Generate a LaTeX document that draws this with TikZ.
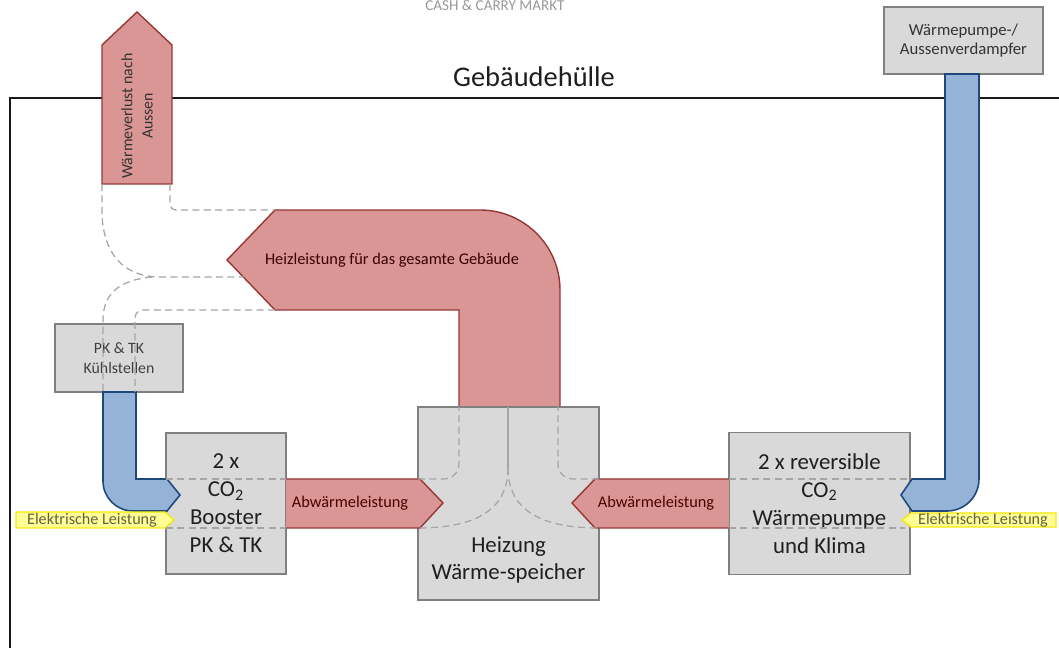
\documentclass[tikz,border=0pt]{standalone}
\usepackage{fontspec}
\setmainfont{Carlito}

% Farben
\definecolor{kastenfill}{RGB}{217,217,217}
\definecolor{kastenrand}{RGB}{128,128,128}
\definecolor{warmfill}{RGB}{218,150,148}
\definecolor{warmrand}{RGB}{150,55,53}
\definecolor{kaltfill}{RGB}{149,179,215}
\definecolor{kaltrand}{RGB}{31,73,125}
\definecolor{stromfill}{RGB}{255,255,150}
\definecolor{stromrand}{RGB}{245,232,10}
\definecolor{flussgrau}{RGB}{165,165,165}

\tikzset{
  kasten/.style={draw=kastenrand, fill=kastenfill, line width=0.9pt, inner sep=0pt, outer sep=0pt, align=center},
  warm/.style={fill=warmfill, draw=warmrand, line width=0.8pt},
  kalt/.style={fill=kaltfill, draw=kaltrand, line width=0.9pt},
  strom/.style={fill=stromfill, draw=stromrand, line width=0.8pt},
  fluss/.style={draw=flussgrau, dashed, dash pattern=on 4pt off 2.5pt, line width=0.7pt},
}

\begin{document}
\begin{tikzpicture}[x=0.02cm, y=-0.02cm]
    \useasboundingbox (0,0) rectangle (1059,648);

    % Gebäudehülle
    \draw[black!90, line width=1.3pt] (10,648) -- (10,98) -- (1059,98);
    \node (huelle) at (534,77) {{\fontsize{16.2}{19}\selectfont\color{black!88} Gebäudehülle}};
    \node (markt) at (495,5) {{\fontsize{8.6}{10}\selectfont\color{black!40} CASH \& CARRY MARKT}};

    % Wärmeverlust nach aussen
    \filldraw[warm] (102,184) -- (102,45) -- (137,12) -- (172,45) -- (172,184) -- cycle;
    \node[rotate=90, align=center, font=\fontsize{9}{11.5}\selectfont, text=black!80] (verlust) at (137,116) {Wärmeverlust nach\\Aussen};

    % Heizleistung
    \filldraw[warm] (560,407) -- (459,407) -- (459,310) -- (275,310) -- (227,260) -- (275,210)
        [rounded corners=1.6cm] -- (560,210) [sharp corners] -- cycle;
    \node (heiz) at (392,260) {{\fontsize{9.3}{11}\selectfont\color{black!78!red} Heizleistung für das gesamte Gebäude}};

    % Kästen
    \node[kasten, minimum width=2.56cm, minimum height=1.36cm, font=\fontsize{9}{11.3}\selectfont, text=black!75] (kuehl) at (119,358)
        {PK \& TK\\Kühlstellen};
    \node[kasten, minimum width=2.4cm, minimum height=2.82cm, font=\fontsize{13}{15.9}\selectfont, text=black!88] (booster) at (226,503.5)
        {2 x\\CO\textsubscript{2}\\Booster\\PK \& TK};
    \node[kasten, minimum width=3.62cm, minimum height=3.86cm] (speicher) at (508.5,503.5) {};
    \node[kasten, minimum width=3.62cm, minimum height=2.84cm, font=\fontsize{13}{15.9}\selectfont, text=black!88] (pumpe) at (819.5,503.5)
        {2 x reversible\\CO\textsubscript{2}\\Wärmepumpe\\und Klima};
    \node[kasten, minimum width=3.18cm, minimum height=1.34cm, font=\fontsize{9.5}{11.3}\selectfont, text=black!80] (aussen) at (963.5,40.5)
        {Wärmepumpe-/\\Aussenverdampfer};

    % Abwärme
    \fill[warmfill] (286,479) -- (420,479) -- (443,503) -- (420,528) -- (286,528) -- cycle;
    \draw[warmrand, line width=0.8pt] (286,479) -- (420,479) -- (443,503) -- (420,528) -- (286,528);
    \fill[warmfill] (729,479) -- (595,479) -- (572,503) -- (595,528) -- (729,528) -- cycle;
    \draw[warmrand, line width=0.8pt] (729,479) -- (595,479) -- (572,503) -- (595,528) -- (729,528);

    % Kälteleistung
    \filldraw[kalt] (136,392) -- (136,479) -- (167,479) -- (180,495) -- (167,511)
        [rounded corners=0.6cm] -- (103,511) [sharp corners] -- (103,392) -- cycle;
    \filldraw[kalt] (945,74) -- (945,479) -- (912,479) -- (901,495) -- (912,511)
        [rounded corners=0.64cm] -- (979,511) [sharp corners] -- (979,74) -- cycle;

    % Elektrische Leistung
    \filldraw[strom] (16,512) -- (165,512) -- (174,520) -- (165,528) -- (16,528) -- cycle;
    \filldraw[strom] (1056,513) -- (911,513) -- (902,520) -- (911,527) -- (1056,527) -- cycle;

    % Flusslinien
    \draw[fluss, rounded corners=0.12cm] (170,184) -- (170,210) -- (275,210);
    \draw[fluss] (102,184) -- (102,210) .. controls (102,255) and (125,277) .. (160,277) -- (244,277);
    \draw[fluss] (152,277) .. controls (118,280) and (103,295) .. (103,320) -- (103,392);
    \draw[fluss, rounded corners=0.16cm] (275,310) -- (135,310) -- (135,392);
    \draw[fluss] (166,479) -- (286,479);
    \draw[fluss] (166,528) -- (286,528);
    \draw[fluss, rounded corners=0.3cm] (418,479) -- (459,479) -- (459,407);
    \draw[fluss, rounded corners=0.3cm] (599,479) -- (558,479) -- (558,407);
    \draw[flussgrau, line width=0.7pt] (508,407) -- (508,468);
    \draw[fluss] (508,468) .. controls (508,512) and (472,528) .. (418,528);
    \draw[fluss] (508,468) .. controls (508,512) and (544,528) .. (599,528);
    \draw[fluss] (729,479) -- (911,479);
    \draw[fluss] (729,528) -- (905,528);

    % Beschriftungen
    \node (abwlinks) at (350,503) {{\fontsize{9.3}{11}\selectfont\color{black!70!red} Abwärmeleistung}};
    \node (abwrechts) at (656,503) {{\fontsize{9.3}{11}\selectfont\color{black!70!red} Abwärmeleistung}};
    \node (stromlinks) at (92,520) {{\fontsize{9.2}{11}\selectfont\color{black!70!yellow} Elektrische Leistung}};
    \node (stromrechts) at (983,520) {{\fontsize{9.2}{11}\selectfont\color{black!70!yellow} Elektrische Leistung}};
    \node[align=center, font=\fontsize{13}{15.2}\selectfont, text=black!88] (heiztext) at (508.5,560) {Heizung\\Wärme-speicher};
\end{tikzpicture}
\end{document}
